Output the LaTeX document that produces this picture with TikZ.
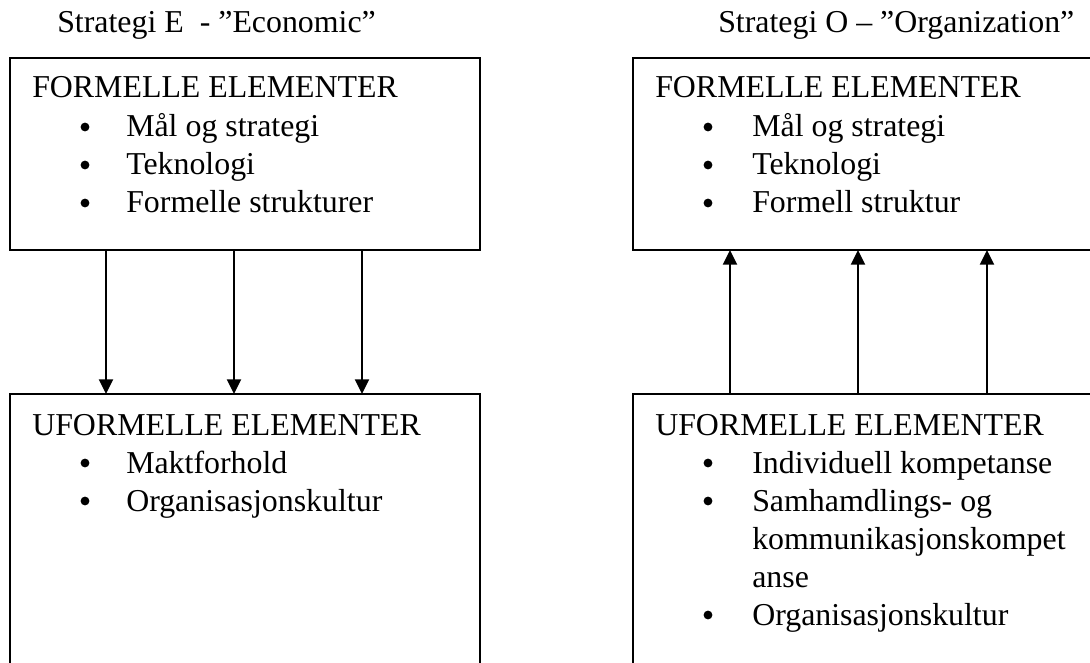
\documentclass[tikz,border=0pt]{standalone}
\usepackage{fontspec}
\setmainfont{Liberation Serif}
\usetikzlibrary{arrows.meta}
\begin{document}
\begin{tikzpicture}[x=0.75pt,y=-0.75pt,
  txt/.style={anchor=base west,inner sep=0pt,font=\fontsize{23.9}{28}\selectfont},
  dot/.style={circle,fill,draw=none,inner sep=0pt,minimum size=6.6pt},
  frame/.style={draw,line width=1.1pt,outer sep=0pt,inner sep=0pt,anchor=north west},
  flow/.style={line width=1.5pt,-{Triangle[length=11pt,width=10.5pt]}}]
\useasboundingbox (0,0) rectangle (1090,663);
\clip (0,0) rectangle (1090,663);

% boxes (the lower ones and the right ones run past the page edge)
\node[frame,minimum width=352.5pt,minimum height=144pt] (ltop) at (10,58) {};
\node[frame,minimum width=352.5pt,minimum height=240pt] (lbot) at (10,394) {};
\node[frame,minimum width=352.5pt,minimum height=144pt] (rtop) at (633,58) {};
\node[frame,minimum width=352.5pt,minimum height=240pt] (rbot) at (633,394) {};

% titles
\node[txt] (ltitle) at (57,33) {Strategi E\ \ - ”Economic”};
\node[txt] (rtitle) at (718,33) {Strategi O – ”Organization”};

% left column
\node[txt] (lh1) at (32,98) {FORMELLE ELEMENTER};
\node[dot] (lb1) at (85,127) {};
\node[txt] (li1) at (126,137) {Mål og strategi};
\node[dot] (lb2) at (85,165) {};
\node[txt] (li2) at (126,175) {Teknologi};
\node[dot] (lb3) at (85,203) {};
\node[txt] (li3) at (126,213) {Formelle strukturer};

\node[txt] (lh2) at (32,435) {UFORMELLE ELEMENTER};
\node[dot] (lb4) at (85,463) {};
\node[txt] (li4) at (126,473) {Maktforhold};
\node[dot] (lb5) at (85,501) {};
\node[txt] (li5) at (126,511) {Organisasjonskultur};

% right column
\node[txt] (rh1) at (655,98) {FORMELLE ELEMENTER};
\node[dot] (rb1) at (708,127) {};
\node[txt] (ri1) at (752,137) {Mål og strategi};
\node[dot] (rb2) at (708,165) {};
\node[txt] (ri2) at (752,175) {Teknologi};
\node[dot] (rb3) at (708,203) {};
\node[txt] (ri3) at (752,213) {Formell struktur};

\node[txt] (rh2) at (655,435) {UFORMELLE ELEMENTER};
\node[dot] (rb4) at (708,463) {};
\node[txt] (ri4) at (752,473) {Individuell kompetanse};
\node[dot] (rb5) at (708,501) {};
\node[txt] (ri5) at (752,511) {Samhamdlings- og};
\node[txt] (ri5b) at (752,549) {kommunikasjonskompet};
\node[txt] (ri5c) at (752,587) {anse};
\node[dot] (rb6) at (708,615) {};
\node[txt] (ri6) at (752,625) {Organisasjonskultur};

% arrow columns
\coordinate (la1) at (106,0);
\coordinate (la2) at (234,0);
\coordinate (la3) at (362,0);
\coordinate (ra1) at (730,0);
\coordinate (ra2) at (858,0);
\coordinate (ra3) at (987,0);

% economic strategy: formal elements drive the informal ones
\foreach \c in {la1,la2,la3}
  \draw[flow] (ltop.south -| \c) -- (lbot.north -| \c);
% organization strategy: informal elements drive the formal ones
\foreach \c in {ra1,ra2,ra3}
  \draw[flow] (rbot.north -| \c) -- (rtop.south -| \c);
\end{tikzpicture}
\end{document}
